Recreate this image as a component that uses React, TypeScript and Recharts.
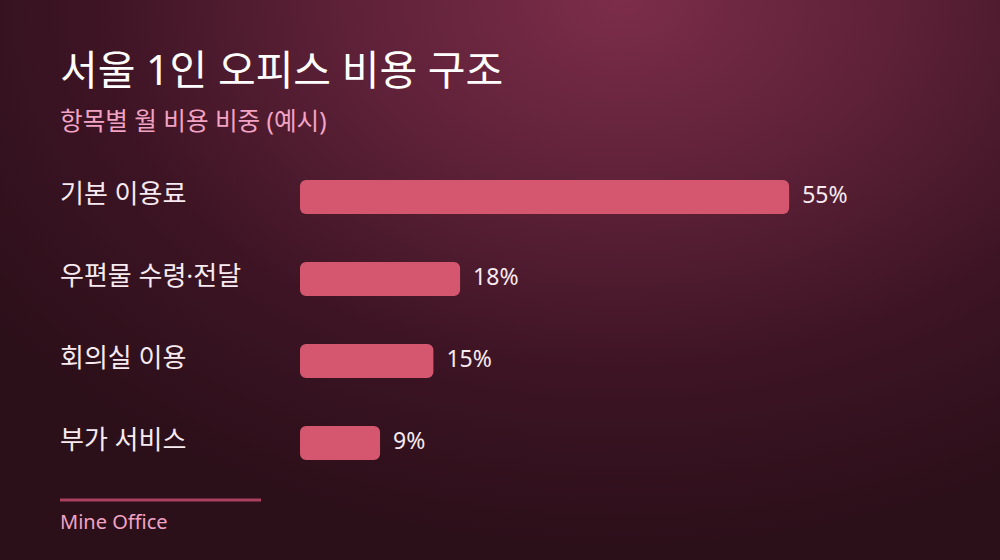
import React from "react";
import { BarChart, Bar, XAxis, YAxis, LabelList } from "recharts";

const categories = ["기본 이용료", "우편물 수령·전달", "회의실 이용", "부가 서비스"];
const shares = [55, 18, 15, 9];
const title = "서울 1인 오피스 비용 구조";
const subtitle = "항목별 월 비용 비중 (예시)";
const footer = "Mine Office";

const data = categories.map((name, i) => ({ name, value: shares[i] }));

const FONT = "'Noto Sans', 'Noto Sans CJK KR', sans-serif";

const CategoryTick = (props: any) => {
  const { y, payload } = props;
  return (
    <text x={60} y={y + 6} fill="#f7eaf0" fontSize={26} fontFamily={FONT} textAnchor="start">
      {payload.value}
    </text>
  );
};

const ValueLabel = (props: any) => {
  const { x, y, width, height, value } = props;
  return (
    <text
      x={x + width + 13}
      y={y + height / 2 + 6}
      fill="#f7eaf0"
      fontSize={23}
      fontFamily={FONT}
      textAnchor="start"
    >
      {value}%
    </text>
  );
};

export default function App() {
  return (
    <div
      style={{
        position: "absolute",
        left: 0,
        top: 0,
        width: 1000,
        height: 560,
        overflow: "hidden",
        background:
          "radial-gradient(ellipse 78% 98% at 62% 0%, #7c2d49 0%, #5e2138 35%, #3d1424 68%, #2b0f19 100%)",
        fontFamily: FONT,
      }}
    >
      <svg width={1000} height={560} style={{ position: "absolute", left: 0, top: 0 }}>
        <text x={60} y={85} fill="#ffffff" fontSize={41} fontWeight={400} fontFamily={FONT}>
          {title}
        </text>
        <text x={60} y={130} fill="#f2a3c4" fontSize={24.6} fontFamily={FONT}>
          {subtitle}
        </text>
        <line x1={60} x2={261} y1={500} y2={500} stroke="#a9415f" strokeWidth={3} />
        <text x={60} y={529} fill="#f2a3c4" fontSize={20} fontFamily={FONT}>
          {footer}
        </text>
      </svg>
      <div style={{ position: "absolute", left: 0, top: 0 }}>
        <BarChart
          width={1000}
          height={560}
          data={data}
          layout="vertical"
          margin={{ top: 156, right: 33, bottom: 76, left: 0 }}
        >
          <XAxis type="number" domain={[0, 75]} hide />
          <YAxis
            type="category"
            dataKey="name"
            width={300}
            axisLine={false}
            tickLine={false}
            tick={<CategoryTick />}
            interval={0}
          />
          <Bar dataKey="value" fill="#d5566f" barSize={34} radius={6} isAnimationActive={false}>
            <LabelList dataKey="value" content={<ValueLabel />} />
          </Bar>
        </BarChart>
      </div>
    </div>
  );
}
